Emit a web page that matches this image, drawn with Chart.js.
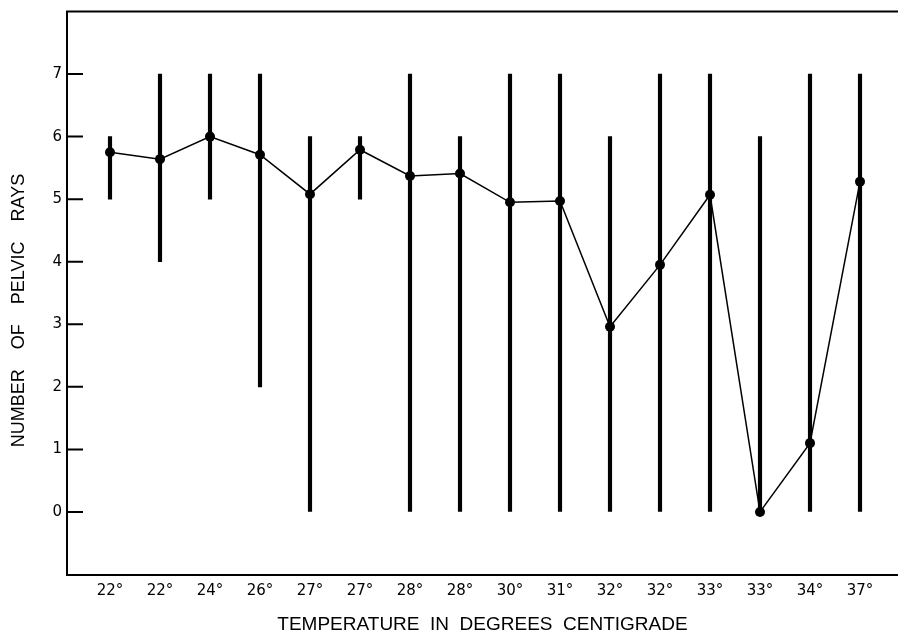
<!DOCTYPE html>
<html><head><meta charset="utf-8">
<script src="https://cdn.jsdelivr.net/npm/chart.js@4.4.1/dist/chart.umd.min.js"></script>
<style>html,body{margin:0;padding:0;background:#fff;} #wrap{width:898px;height:636px;}</style>
</head><body><div id="wrap"><canvas id="c" width="898" height="636"></canvas></div>
<script>
const temperatureLabels = ['22°','22°','24°','26°','27°','27°','28°','28°','30°','31°','32°','32°','33°','33°','34°','37°'];
const meanRays  = [5.75, 5.64, 6.0, 5.71, 5.08, 5.79, 5.37, 5.41, 4.95, 4.97, 2.96, 3.95, 5.07, 0.0, 1.10, 5.28];
const rangeLow  = [5, 4, 5, 2, 0, 5, 0, 0, 0, 0, 0, 0, 0, 0, 0, 0];
const rangeHigh = [6, 7, 7, 7, 6, 6, 7, 6, 7, 7, 6, 7, 7, 6, 7, 7];
const yTickValues = [0, 1, 2, 3, 4, 5, 6, 7];
const xTitle = 'TEMPERATURE  IN  DEGREES  CENTIGRADE';
const yTitle = 'NUMBER    OF    PELVIC    RAYS       ';

const idx = temperatureLabels.map((_, i) => i);
const rangeData = idx.map(i => ({x: i, y: [rangeLow[i], rangeHigh[i]]}));
const meanData = idx.map(i => ({x: i, y: meanRays[i]}));

const framePlugin = {
  id: 'frame',
  afterDraw(chart) {
    const {ctx, chartArea: a, scales: {y}} = chart;
    ctx.save();
    ctx.strokeStyle = '#000';
    ctx.lineWidth = 2;
    ctx.beginPath();
    ctx.moveTo(a.left - 1, a.top);
    ctx.lineTo(a.right, a.top);
    ctx.stroke();
    ctx.beginPath();
    yTickValues.forEach(v => {
      const py = y.getPixelForValue(v);
      ctx.moveTo(a.left, py);
      ctx.lineTo(a.left + 16, py);
    });
    ctx.stroke();
    ctx.restore();
  }
};

new Chart(document.getElementById('c'), {
  type: 'bar',
  data: {
    datasets: [
      {
        type: 'line',
        data: meanData,
        borderColor: '#000',
        borderWidth: 1.5,
        pointRadius: 5,
        pointBackgroundColor: '#000',
        pointBorderWidth: 0,
        tension: 0,
        clip: false,
        order: 0
      },
      {
        type: 'bar',
        data: rangeData,
        backgroundColor: '#000',
        borderWidth: 0,
        barThickness: 3.5,
        grouped: false,
        order: 1
      }
    ]
  },
  options: {
    responsive: false,
    devicePixelRatio: 1,
    animation: false,
    layout: {autoPadding: false, padding: {top: 11.5, right: 0, bottom: 0, left: 0}},
    plugins: {legend: {display: false}, tooltip: {enabled: false}},
    scales: {
      x: {
        type: 'linear',
        min: -0.86,
        max: 15.76,
        offset: false,
        grid: {display: true, drawOnChartArea: false, drawTicks: false, offset: false},
        border: {display: true, color: '#000', width: 2},
        afterBuildTicks: s => { s.ticks = idx.map(v => ({value: v})); },
        afterFit: s => { s.height = 61.5; s.paddingLeft = 0; s.paddingRight = 0; },
        ticks: {
          padding: 8,
          color: '#000',
          font: {family: 'DejaVu Sans', size: 15},
          maxRotation: 0,
          autoSkip: false,
          callback: v => temperatureLabels[v] ?? ''
        },
        title: {
          display: true,
          text: xTitle,
          color: '#000',
          font: {family: 'Liberation Sans', size: 19},
          padding: {top: 0, bottom: 0}
        }
      },
      y: {
        min: -1,
        max: 8,
        grid: {display: true, drawOnChartArea: false, drawTicks: false},
        border: {display: true, color: '#000', width: 2},
        afterBuildTicks: s => { s.ticks = yTickValues.map(v => ({value: v})); },
        afterFit: s => { s.width = 67; s.paddingTop = 0; s.paddingBottom = 0; },
        ticks: {
          padding: 5,
          color: '#000',
          font: {family: 'DejaVu Sans', size: 15},
          callback: v => String(v)
        },
        title: {
          display: true,
          text: yTitle,
          color: '#000',
          font: {family: 'Liberation Sans', size: 18},
          padding: {top: 8, bottom: 0}
        }
      }
    }
  },
  plugins: [framePlugin]
});
</script>
</body></html>
